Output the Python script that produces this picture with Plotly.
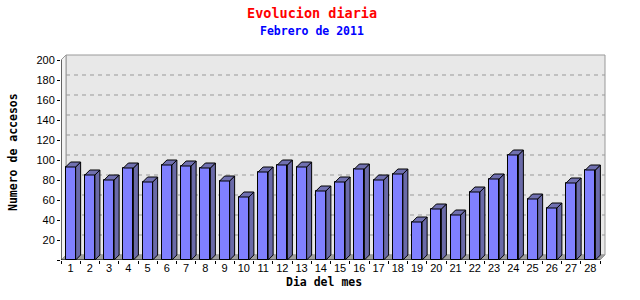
import plotly.graph_objects as go

# ---- data ----
days = list(range(1, 29))
visits = [93, 85, 80, 92, 78, 95, 94, 92, 79, 63, 88, 95, 93, 69,
          78, 91, 80, 86, 38, 51, 45, 68, 81, 105, 61, 52, 77, 90]
y_ticks = [0, 20, 40, 60, 80, 100, 120, 140, 160, 180, 200]
y_tick_text = ["", "20", "40", "60", "80", "100", "120", "140", "160", "180", "200"]
title = "Evolucion diaria"
subtitle = "Febrero de 2011"
x_title = "Dia del mes"
y_title = "Numero de accesos"

# ---- geometry (style) ----
L, T, B = 61, 54, 40
PXC = 539 / 28.0            # pixels per category
PLOT_W = 546
PLOT_H = 206
R = 640 - L - PLOT_W
DX = 5 / PXC                # 3D depth in category units
DY = 5                      # 3D depth in value units
HW = 0.26                   # half bar width
YMAX = 200
XMAX = 0.5 + PLOT_W / PXC

FRONT = "#8080ff"
SIDE = "#6a6aa8"
TOP = "#7070b0"

fig = go.Figure()

# front faces
fig.add_trace(go.Bar(x=days, y=visits, width=2 * HW,
                     marker=dict(color=FRONT, line=dict(color="black", width=1)),
                     hoverinfo="skip"))

# side + top faces
sx, sy, tx, ty = [], [], [], []
for d, v in zip(days, visits):
    xl, xr = d - HW, d + HW
    sx += [xr, xr + DX, xr + DX, xr, xr, None]
    sy += [0, DY, v + DY, v, 0, None]
    tx += [xl, xl + DX, xr + DX, xr, xl, None]
    ty += [v, v + DY, v + DY, v, v, None]
fig.add_trace(go.Scatter(x=sx, y=sy, mode="lines", fill="toself", fillcolor=SIDE,
                         line=dict(color="black", width=1), hoverinfo="skip"))
fig.add_trace(go.Scatter(x=tx, y=ty, mode="lines", fill="toself", fillcolor=TOP,
                         line=dict(color="black", width=1), hoverinfo="skip"))

shapes = []
# back wall
shapes.append(dict(type="rect", xref="x", yref="y", x0=0.5 + DX, x1=28.5 + DX,
                   y0=DY, y1=YMAX + DY, fillcolor="#e8e8e8",
                   line=dict(color="#999999", width=1), layer="below"))
# left wall
shapes.append(dict(type="path", xref="x", yref="y",
                   path=f"M 0.5,0 L {0.5+DX},{DY} L {0.5+DX},{YMAX+DY} L 0.5,{YMAX} Z",
                   fillcolor="#f2f2f2", line=dict(color="#999999", width=1), layer="below"))
# floor
shapes.append(dict(type="path", xref="x", yref="y",
                   path=f"M 0.5,0 L 28.5,0 L {28.5+DX},{DY} L {0.5+DX},{DY} Z",
                   fillcolor="#a0a0a0", line=dict(color="#999999", width=1), layer="below"))
# dashed grid on back wall
for v in y_ticks[1:-1]:
    shapes.append(dict(type="line", xref="x", yref="y", x0=0.5 + DX, x1=28.5 + DX,
                       y0=v + DY, y1=v + DY,
                       line=dict(color="#999999", width=1, dash="4px,4px"), layer="below"))
# axis lines
shapes.append(dict(type="line", xref="x", yref="y", x0=0.5, x1=0.5, y0=0, y1=YMAX,
                   line=dict(color="black", width=1), layer="above"))
shapes.append(dict(type="line", xref="x", yref="y", x0=0.5, x1=28.5, y0=0, y1=0,
                   line=dict(color="black", width=1), layer="above"))

def px_x(p):
    return (p - L) / PLOT_W

def px_y(p):
    return (T + PLOT_H - p) / PLOT_H

annotations = [
    dict(text=f"<b>{title}</b>", x=px_x(312), y=px_y(13.5), xref="paper", yref="paper",
         xanchor="center", yanchor="middle", showarrow=False,
         font=dict(family="DejaVu Sans Mono", size=13.5, color="#ff0000")),
    dict(text=f"<b>{subtitle}</b>", x=px_x(311.5), y=px_y(31.5), xref="paper", yref="paper",
         xanchor="center", yanchor="middle", showarrow=False,
         font=dict(family="DejaVu Sans Mono", size=11.5, color="#0000ff")),
    dict(text=f"<b>{x_title}</b>", x=px_x(324), y=px_y(282), xref="paper", yref="paper",
         xanchor="center", yanchor="middle", showarrow=False,
         font=dict(family="DejaVu Sans Mono", size=11.5, color="black")),
    dict(text=f"<b>{y_title}</b>", x=px_x(12.5), y=px_y(152.5), xref="paper", yref="paper",
         xanchor="center", yanchor="middle", showarrow=False, textangle=-90,
         font=dict(family="DejaVu Sans Mono", size=11.5, color="black")),
]

fig.update_layout(
    width=640, height=300,
    margin=dict(l=L, r=R, t=T, b=B, pad=0),
    paper_bgcolor="white", plot_bgcolor="white",
    showlegend=False, bargap=0,
    shapes=shapes, annotations=annotations,
    xaxis=dict(range=[0.5, XMAX], tickmode="array", tickvals=days,
               ticktext=[str(d) for d in days], ticks="", showgrid=False,
               zeroline=False, showline=False,
               tickfont=dict(family="Liberation Sans", size=11, color="black"),
               minor=dict(tickmode="array", tickvals=[k + 0.5 for k in range(29)],
                          ticks="outside", ticklen=3, tickcolor="black", showgrid=False)),
    yaxis=dict(range=[0, PLOT_H], tickmode="array", tickvals=y_ticks, ticktext=y_tick_text,
               ticks="outside", ticklen=3, tickcolor="black", showgrid=False,
               zeroline=False, showline=False,
               tickfont=dict(family="Liberation Sans", size=11, color="black")),
)

fig.write_html("out.html")
